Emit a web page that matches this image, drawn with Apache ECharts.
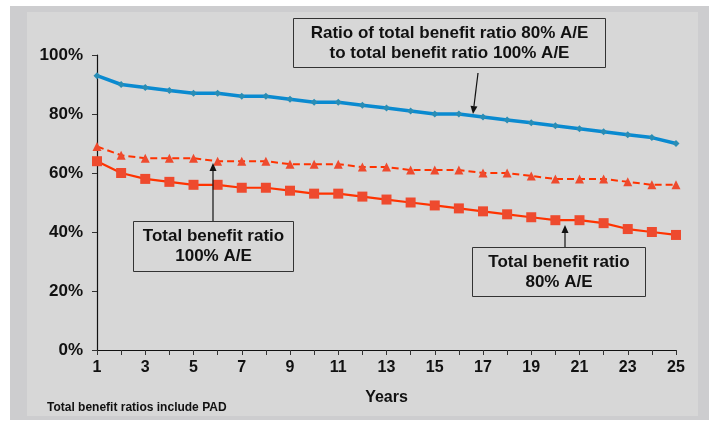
<!DOCTYPE html>
<html>
<head>
<meta charset="utf-8">
<script src="https://cdn.jsdelivr.net/npm/echarts@6/dist/echarts.min.js"></script>
<style>
html,body{margin:0;padding:0;background:#fff;}
#c{width:709px;height:422px;}
</style>
</head>
<body>
<div id="c"></div>
<script>
var years = ['1','2','3','4','5','6','7','8','9','10','11','12','13','14','15','16','17','18','19','20','21','22','23','24','25'];
var ratioSeries = [93,90,89,88,87,87,86,86,85,84,84,83,82,81,80,80,79,78,77,76,75,74,73,72,70];
var tbr100 = [69,66,65,65,65,64,64,64,63,63,63,62,62,61,61,61,60,60,59,58,58,58,57,56,56];
var tbr80 = [64,60,58,57,56,56,55,55,54,53,53,52,51,50,49,48,47,46,45,44,44,43,41,40,39];
var yTicks = ['0%','20%','40%','60%','80%','100%'];

var FONT = '"Liberation Sans", Arial, sans-serif';
var NARROW = '"Liberation Sans Narrow", "Liberation Sans", Arial, sans-serif';

function box(x, y, w, h, lines) {
  return {
    type: 'group', left: x, top: y, z: 20,
    children: [
      {type: 'rect', shape: {x: 0, y: 0, width: w, height: h},
       style: {fill: '#d7d7d7', stroke: '#333', lineWidth: 1}},
      {type: 'text', x: w / 2, y: h / 2,
       style: {text: lines.join('\n'), fill: '#111', font: 'bold 17px ' + FONT,
               align: 'center', verticalAlign: 'middle', lineHeight: 20}}
    ]
  };
}
function arrow(x1, y1, x2, y2) {
  var dx = x2 - x1, dy = y2 - y1, L = Math.sqrt(dx*dx + dy*dy);
  var ux = dx / L, uy = dy / L, px = -uy, py = ux;
  var hl = 8, hw = 3.5;
  var bx = x2 - ux * hl, by = y2 - uy * hl;
  return [
    {type: 'line', z: 20, shape: {x1: x1, y1: y1, x2: bx, y2: by}, style: {stroke: '#111', lineWidth: 1.2}},
    {type: 'polygon', z: 20, shape: {points: [[x2, y2], [bx + px*hw, by + py*hw], [bx - px*hw, by - py*hw]]},
     style: {fill: '#111'}}
  ];
}

var chart = echarts.init(document.getElementById('c'), null, {renderer: 'canvas'});
var graphics = [
  {type: 'rect', z: -10, silent: true, shape: {x: 10, y: 6, width: 699, height: 414}, style: {fill: '#cdcdcf'}},
  {type: 'rect', z: -9, silent: true, shape: {x: 27, y: 12, width: 671, height: 404}, style: {fill: '#d7d7d7'}},
  box(293, 18, 312, 49, ['Ratio of total benefit ratio 80% A/E', 'to total benefit ratio 100% A/E']),
  box(133, 221, 160, 50, ['Total benefit ratio', '100% A/E']),
  box(472, 247, 173, 49, ['Total benefit ratio', '80% A/E']),
  {type: 'text', left: 47, top: 402, z: 20,
   style: {text: 'Total benefit ratios include PAD', fill: '#111', font: 'bold 12px ' + FONT}}
];
graphics = graphics.concat(arrow(478, 73, 473, 114), arrow(213, 221, 213, 163), arrow(565, 247, 565, 225));

chart.setOption({
  animation: false,
  backgroundColor: 'transparent',
  grid: {left: 97, right: 33, top: 55, bottom: 72, containLabel: false},
  xAxis: {
    type: 'category', data: years, boundaryGap: false,
    name: 'Years', nameLocation: 'middle', nameGap: 40,
    nameTextStyle: {fontFamily: FONT, fontWeight: 'bold', fontSize: 16, color: '#111'},
    axisLine: {lineStyle: {color: '#111', width: 1.2}},
    axisTick: {show: true, interval: 0, length: 5, inside: false, lineStyle: {color: '#333'}},
    axisLabel: {interval: 1, margin: 10, fontFamily: NARROW, fontWeight: 'bold', fontSize: 16, color: '#111'},
    splitLine: {show: false}
  },
  yAxis: {
    type: 'value', min: 0, max: 100, interval: 20,
    axisLine: {show: true, lineStyle: {color: '#111', width: 1.2}},
    axisTick: {show: true, length: 5, lineStyle: {color: '#333'}},
    axisLabel: {margin: 14, fontFamily: FONT, fontWeight: 'bold', fontSize: 17, color: '#111',
      formatter: function (v) { return yTicks[Math.round(v / 20)]; }},
    splitLine: {show: false}
  },
  series: [
    {type: 'line', name: 'Ratio', data: ratioSeries, z: 5,
     lineStyle: {color: '#0a8ad0', width: 3.5}, symbol: 'diamond', symbolSize: 7,
     itemStyle: {color: '#2a8db5', borderWidth: 0}},
    {type: 'line', name: 'TBR 100% A/E', data: tbr100, z: 4,
     lineStyle: {color: '#ff3300', width: 2, type: [7, 4]}, symbol: 'triangle', symbolSize: 9,
     itemStyle: {color: '#ee4a2e', borderWidth: 0}},
    {type: 'line', name: 'TBR 80% A/E', data: tbr80, z: 4,
     lineStyle: {color: '#ff3300', width: 2.2}, symbol: 'rect', symbolSize: 10,
     itemStyle: {color: '#ee4a2e', borderWidth: 0}}
  ],
  graphic: graphics
});
</script>
</body>
</html>
